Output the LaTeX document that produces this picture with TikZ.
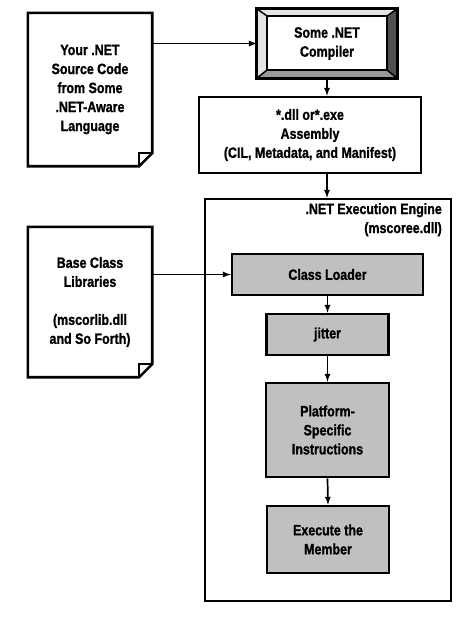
\documentclass[tikz,border=0pt]{standalone}
\usepackage{fontspec}
\setmainfont{Liberation Sans}[FakeStretch=0.83, BoldFeatures={FakeBold=1.2}]
\usepackage{tikz}
\usetikzlibrary{positioning,arrows}
\definecolor{boxgray}{HTML}{C0C0C0}
\definecolor{bevellight}{HTML}{E4E4E4}
\definecolor{bevelmid}{HTML}{9A9A9A}
\definecolor{beveldark}{HTML}{505050}

\begin{document}
\begin{tikzpicture}[
x=1pt, y=-1pt,
every node/.style={
  font=\fontsize{15}{19}\selectfont\bfseries,
  align=center,
  inner sep=0pt
  },
doc/.style={
  draw=none,
  fill=none
  },
plainbox/.style={
  draw,
  line width=2.6pt,
  fill=white
  },
graybox/.style={
  draw,
  line width=2.6pt,
  fill=boxgray
  },
flow/.style={
  ->,
  line width=1.7pt
  },
>=latex
]
\useasboundingbox (0,0) rectangle (468,619);

% outer engine frame
\node[plainbox, minimum width=246pt, minimum height=402pt] (engine) at (328,400) {};
\node[anchor=north east, align=right] (enginelabel) at (442,203)
  {.NET Execution Engine\\(mscoree.dll)};

% documents on the left
\node[doc, minimum width=124pt, minimum height=153pt] (src) at (90,89.5)
  {Your .NET\\Source Code\\from Some\\.NET-Aware\\Language};
\node[doc, minimum width=124pt, minimum height=150pt] (base) at (90,302)
  {Base Class\\Libraries\\[19pt](mscorlib.dll\\and So Forth)};
\foreach \d in {src,base}
{
  \draw[line width=2.6pt, line join=miter]
    (\d.north west) -- (\d.north east) -- ([yshift=13pt]\d.south east)
    -- ([xshift=-13pt]\d.south east) -- (\d.south west) -- cycle;
  \draw[line width=1.7pt]
    ([yshift=13pt]\d.south east) -- ([xshift=-13pt, yshift=13pt]\d.south east)
    -- ([xshift=-13pt]\d.south east);
}

% compiler with bevel
\node[minimum width=140pt, minimum height=69pt] (comp) at (327,43.5) {};
\coordinate (ci-nw) at ([xshift=10pt, yshift=-7pt]comp.north west);
\coordinate (ci-ne) at ([xshift=-10pt, yshift=-7pt]comp.north east);
\coordinate (ci-se) at ([xshift=-10pt, yshift=8pt]comp.south east);
\coordinate (ci-sw) at ([xshift=10pt, yshift=8pt]comp.south west);
\fill[bevellight] (comp.north west) -- (comp.north east) -- (ci-ne) -- (ci-nw) -- cycle;
\fill[bevellight] (comp.north west) -- (ci-nw) -- (ci-sw) -- (comp.south west) -- cycle;
\fill[beveldark] (comp.north east) -- (comp.south east) -- (ci-se) -- (ci-ne) -- cycle;
\fill[bevelmid] (comp.south west) -- (ci-sw) -- (ci-se) -- (comp.south east) -- cycle;
\draw[line width=1.5pt] (comp.north west) -- (ci-nw) (comp.north east) -- (ci-ne)
  (comp.south east) -- (ci-se) (comp.south west) -- (ci-sw);
\draw[line width=1.8pt, fill=white] (ci-nw) rectangle (ci-se);
\draw[line width=2.8pt] (comp.north west) rectangle (comp.south east);
\node (comptext) at (comp.center) {Some .NET\\Compiler};

% assembly and engine steps
\node[plainbox, minimum width=222pt, minimum height=76pt] (asm) at (310,135)
  {*.dll or*.exe\\Assembly\\(CIL, Metadata, and Manifest)};
\node[graybox, minimum width=191pt, minimum height=41pt] (loader) at (327.5,274.5) {Class Loader};
\node[graybox, minimum width=122pt, minimum height=41pt] (jitter) at (327.5,334.5) {jitter};
\node[graybox, minimum width=123pt, minimum height=94pt] (native) at (327.5,430)
  {Platform-\\Specific\\Instructions};
\node[graybox, minimum width=122pt, minimum height=67pt] (exec) at (328,539.5)
  {Execute the\\Member};

% connectors
\draw[flow] (src.east |- comp.west) -- (comp.west);
\draw[flow] (comp.south) -- (comp.south |- asm.north);
\draw[flow] (comp.south |- asm.south) -- (comp.south |- engine.north);
\draw[flow] (base.east |- loader.west) -- (loader.west);
\foreach \a/\b in {loader/jitter,jitter/native,native/exec}
  \draw[flow] (\a.south) -- (\b.north);
\end{tikzpicture}
\end{document}
